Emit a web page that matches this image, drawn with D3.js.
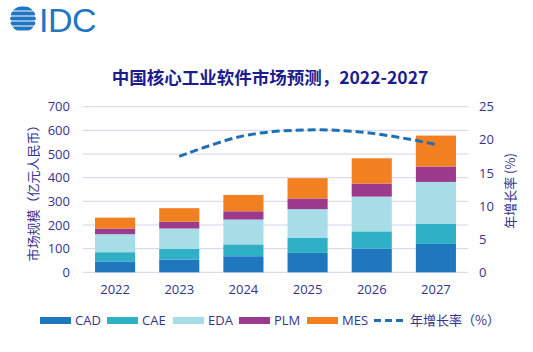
<!DOCTYPE html>
<html><head><meta charset="utf-8">
<script src="https://cdn.jsdelivr.net/npm/d3@7"></script>
<style>body{margin:0;background:#fff}svg{display:block;font-family:"Open Sans","Noto Sans","Noto Sans CJK SC",sans-serif}</style>
</head><body>
<svg id="c" width="533" height="352"></svg>
<script>
const years = ["2022","2023","2024","2025","2026","2027"];
const seriesNames = ["CAD","CAE","EDA","PLM","MES"];
const CAD = [46, 54, 68, 82, 100, 120];
const CAE = [39, 45, 50, 63, 73, 86];
const EDA = [76, 86, 105, 122, 147, 176];
const PLM = [24, 29, 35, 45, 55, 65];
const MES = [46, 57, 69, 86, 107, 131];
const growthYears = ["2023","2024","2025","2026","2027"];
const growth = [17.5, 20.6, 21.5, 21.0, 19.3];
const leftTicks = [0,100,200,300,400,500,600,700];
const rightTicks = [0,5,10,15,20,25];
const colors = {CAD:"#1f78be", CAE:"#2fb0c6", EDA:"#a6dde6", PLM:"#9c3a8e", MES:"#f27f20"};
const lineColor = "#1f6fb5";
const textColor = "#34348c";

const svg = d3.select("#c");
const table = years.map((y,i)=>({year:y, CAD:CAD[i], CAE:CAE[i], EDA:EDA[i], PLM:PLM[i], MES:MES[i]}));
const stack = d3.stack().keys(seriesNames)(table);

const x = d3.scaleBand().domain(years).range([83, 468]).paddingInner(0.375).paddingOuter(0.1875);
const y = d3.scaleLinear().domain([0,700]).range([272.3, 106.7]);
const y2 = d3.scaleLinear().domain([0,25]).range([272.3, 106.7]);

// logo
const logo = svg.append("g");
const clip = svg.append("defs").append("clipPath").attr("id","gl");
clip.append("circle").attr("cx",23).attr("cy",19).attr("r",13);
const lg = logo.append("g").attr("clip-path","url(#gl)");
[8.5,13.5,18.5,23.5,28.5].forEach((yy)=>{
  lg.append("rect").attr("x",10).attr("y",yy-2).attr("width",26).attr("height",4).attr("rx",2).attr("fill","#1f76c2");
});
logo.append("text").attr("x",39).attr("y",32).attr("font-family","Arial, 'Liberation Sans', sans-serif").attr("font-size",34).attr("fill","#1f76c2").attr("letter-spacing",-0.5).text("IDC");

// title
svg.append("text").attr("x",270).attr("y",84).attr("text-anchor","middle").attr("font-size",17.5).attr("font-weight","bold").attr("fill","#1c1c8e").attr("font-family","'Noto Sans CJK SC','Open Sans',sans-serif").text("中国核心工业软件市场预测，2022-2027");

// gridlines
svg.append("g").selectAll("line").data(leftTicks).join("line")
  .attr("x1",83).attr("x2",468).attr("y1",d=>y(d)).attr("y2",d=>y(d))
  .attr("stroke","#d3d3ee").attr("stroke-width",1);

// left axis
const la = svg.append("g").attr("transform","translate(83,0)").call(d3.axisLeft(y).tickValues(leftTicks).tickSize(0).tickPadding(13));
la.select(".domain").remove();
la.selectAll("text").attr("font-size",13).attr("fill",textColor).attr("font-family","'Open Sans',sans-serif");
// right axis
const ra = svg.append("g").attr("transform","translate(468,0)").call(d3.axisRight(y2).tickValues(rightTicks).tickSize(0).tickPadding(11));
ra.select(".domain").remove();
ra.selectAll("text").attr("font-size",13).attr("fill",textColor).attr("font-family","'Open Sans',sans-serif");
// bottom axis
const ba = svg.append("g").attr("transform","translate(0,272.3)").call(d3.axisBottom(x).tickSize(0).tickPadding(12));
ba.select(".domain").remove();
ba.selectAll("text").attr("font-size",13).attr("fill",textColor).attr("font-family","'Open Sans',sans-serif");

// axis titles
svg.append("text").attr("transform","translate(38,190) rotate(-90)").attr("text-anchor","middle").attr("font-size",13).attr("fill",textColor).attr("font-family","'Noto Sans CJK SC',sans-serif").text("市场规模（亿元人民币）");
svg.append("text").attr("transform","translate(515,191) rotate(-90)").attr("text-anchor","middle").attr("font-size",13).attr("fill",textColor).attr("font-family","'Noto Sans CJK SC',sans-serif").text("年增长率 (%)");

// bars
svg.append("g").selectAll("g").data(stack).join("g").attr("fill",d=>colors[d.key])
  .selectAll("rect").data(d=>d).join("rect")
  .attr("x",d=>x(d.data.year)).attr("width",x.bandwidth())
  .attr("y",d=>y(d[1])).attr("height",d=>y(d[0])-y(d[1]));

// growth line
const line = d3.line().x((d,i)=>x(growthYears[i])+x.bandwidth()/2).y(d=>y2(d)).curve(d3.curveCatmullRom.alpha(0.5));
svg.append("path").datum(growth).attr("d",line).attr("fill","none").attr("stroke",lineColor).attr("stroke-width",3).attr("stroke-dasharray","8,4");

// legend
const leg = svg.append("g");
const lx = [40,107,173,239,307];
seriesNames.forEach((s,i)=>{
  leg.append("rect").attr("x",lx[i]).attr("y",317).attr("width",31).attr("height",7).attr("fill",colors[s]);
  leg.append("text").attr("x",lx[i]+35).attr("y",325).attr("font-size",13).attr("fill",textColor).attr("font-family","'Open Sans',sans-serif").text(s);
});
leg.append("line").attr("x1",374).attr("x2",404).attr("y1",320.5).attr("y2",320.5).attr("stroke",lineColor).attr("stroke-width",3).attr("stroke-dasharray","7,4");
leg.append("text").attr("x",410).attr("y",325).attr("font-size",13).attr("fill",textColor).attr("font-family","'Noto Sans CJK SC',sans-serif").text("年增长率（%）");
</script>
</body></html>
